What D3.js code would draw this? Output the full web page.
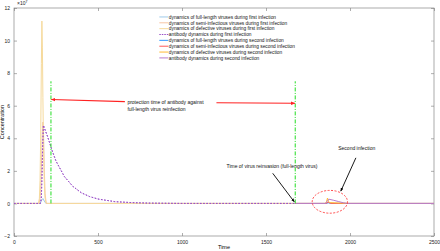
<!DOCTYPE html>
<html>
<head>
<meta charset="utf-8">
<script src="https://cdn.jsdelivr.net/npm/d3@7"></script>
<style>
  body { margin: 0; background: #fff; }
  text { font-family: 'Liberation Sans', Arial, sans-serif; }
</style>
</head>
<body>
<div id="chart"></div>
<script>
// data (values in units of 1e7)
const xTicks = [0, 500, 1000, 1500, 2000, 2500]
const yTicks = [-2, 0, 2, 4, 6, 8, 10, 12]

const fullFirst = [[0, 0], [155, 0], [165, 0.2], [172, 0.3], [180, 0.15], [190, 0], [1674, 0]]
const semiFirst = [[0, 0], [150, 0], [158, 0.6], [163, 2.2], [168, 4.2], [172, 5.0], [176, 4.2], [180, 2.2], [185, 0.6], [192, 0], [1674, 0]]
const defFirst = [[0, 0], [145, 0], [151, 0.3], [155, 1.4], [159, 4.2], [163, 8.6], [166, 11.2], [169, 9.6], [172, 6.5], [176, 3.4], [180, 1.4], [184, 0.4], [190, 0.05], [200, 0], [1674, 0]]
const abFirst = [[0, 0], [158, 0], [163, 0.4], [167, 1.8], [171, 3.6], [175, 4.8], [182, 4.6], [200, 4.1], [225, 3.3], [250, 2.6], [300, 1.65], [350, 1.05], [400, 0.66], [450, 0.42], [500, 0.27], [600, 0.11], [700, 0.05], [800, 0.02], [1000, 0], [1674, 0]]

const fullSecond = [[1674, 0], [1860, 0], [1870, 0.04], [1885, 0], [2500, 0]]
const semiSecond = [[1674, 0], [1858, 0], [1870, 0.08], [1885, 0], [2500, 0]]
const defSecond = [[1674, 0], [1852, 0], [1860, 0.1], [1866, 0.33], [1872, 0.12], [1880, 0.05], [1950, 0.02], [2000, 0], [2500, 0]]
const abSecond = [[1674, 0], [1856, 0], [1862, 0.1], [1874, 0.26], [1900, 0.2], [1930, 0.12], [1960, 0.04], [1985, 0], [2500, 0]]

const series = [
  { name: 'dynamics of full-length viruses during first infection', color: '#9ecae9', dash: null, values: fullFirst },
  { name: 'dynamics of semi-infectious viruses during first infection', color: '#f7c6a6', dash: null, values: semiFirst },
  { name: 'dynamics of defective viruses during first infection', color: '#f6da9c', dash: null, values: defFirst },
  { name: 'antibody dynamics during first infection', color: '#9a4fc7', dash: '1.6,1.6', values: abFirst },
  { name: 'dynamics of full-length viruses during second infection', color: '#3399ff', dash: null, values: fullSecond },
  { name: 'dynamics of semi-infectious viruses during second infection', color: '#ff5a5a', dash: null, values: semiSecond },
  { name: 'dynamics of defective viruses during second infection', color: '#ffbb33', dash: null, values: defSecond },
  { name: 'antibody dynamics during second infection', color: '#b77ccc', dash: null, values: abSecond }
]

const greenLines = [220, 1674]

const margin = { top: 8, left: 14, right: 6, bottom: 15 }
const width = 440 - margin.left - margin.right
const height = 251 - margin.top - margin.bottom

const svg = d3
  .select('#chart')
  .append('svg')
  .attr('width', 440)
  .attr('height', 251)
  .append('g')
  .attr('transform', 'translate(' + margin.left + ',' + margin.top + ')')

const x = d3.scaleLinear().domain([0, 2500]).range([0, width])
const y = d3.scaleLinear().domain([-2, 12]).range([height, 0])

// axes box with inner ticks
const tickLen = 3
svg.append('g')
  .attr('transform', `translate(0,${height})`)
  .call(d3.axisBottom(x).tickValues(xTicks).tickFormat(d3.format('d')).tickSizeInner(-tickLen).tickSizeOuter(0).tickPadding(4))
svg.append('g')
  .call(d3.axisTop(x).tickValues(xTicks).tickSizeInner(-tickLen).tickSizeOuter(0).tickFormat(''))
svg.append('g')
  .call(d3.axisLeft(y).tickValues(yTicks).tickFormat(d3.format('d')).tickSizeInner(-tickLen).tickSizeOuter(0).tickPadding(4))
svg.append('g')
  .attr('transform', `translate(${width},0)`)
  .call(d3.axisRight(y).tickValues(yTicks).tickSizeInner(-tickLen).tickSizeOuter(0).tickFormat(''))

svg.selectAll('.domain').remove()
svg.selectAll('.tick line').attr('stroke', '#777').attr('stroke-width', 0.6)
svg.selectAll('.tick text').attr('font-size', 5).attr('fill', '#222')

svg.append('rect')
  .attr('width', width)
  .attr('height', height)
  .attr('fill', 'none')
  .attr('stroke', '#888')
  .attr('stroke-width', 0.7)

svg.append('text')
  .attr('x', 3)
  .attr('y', -3)
  .attr('font-size', 5)
  .attr('fill', '#222')
  .text('\u00d710')
  .append('tspan')
  .attr('dy', -2)
  .attr('font-size', 3.5)
  .text('7')

svg.append('text')
  .attr('x', width / 2)
  .attr('y', height + 12.5)
  .attr('text-anchor', 'middle')
  .attr('font-size', 5.5)
  .text('Time')

svg.append('text')
  .attr('transform', `translate(${-10},${height / 2}) rotate(-90)`)
  .attr('text-anchor', 'middle')
  .attr('font-size', 5.5)
  .text('Concentration')

// curves
const line = d3.line()
  .x(d => x(d[0]))
  .y(d => y(d[1]))

svg.selectAll('.curve')
  .data(series)
  .enter()
  .append('path')
  .attr('class', 'curve')
  .attr('d', d => line(d.values))
  .attr('fill', 'none')
  .attr('stroke', d => d.color)
  .attr('stroke-width', d => d.dash ? 0.9 : 1)
  .attr('stroke-dasharray', d => d.dash)

// redraw first-infection antibody on top so dashes show
svg.append('path')
  .attr('d', line(abFirst))
  .attr('fill', 'none')
  .attr('stroke', '#9a4fc7')
  .attr('stroke-width', 0.9)
  .attr('stroke-dasharray', '1.6,1.6')

// green dash-dot markers
svg.selectAll('.green')
  .data(greenLines)
  .enter()
  .append('line')
  .attr('x1', d => x(d))
  .attr('x2', d => x(d))
  .attr('y1', y(0))
  .attr('y2', y(7.5))
  .attr('stroke', '#22dd22')
  .attr('stroke-width', 1)
  .attr('stroke-dasharray', '4,1.5,1,1.5')

// annotations
const defs = svg.append('defs')
function marker(id, color) {
  defs.append('marker')
    .attr('id', id)
    .attr('viewBox', '0 0 10 10')
    .attr('refX', 9)
    .attr('refY', 5)
    .attr('markerWidth', 4)
    .attr('markerHeight', 4)
    .attr('orient', 'auto')
    .append('path')
    .attr('d', 'M0,1 L10,5 L0,9 z')
    .attr('fill', color)
}
marker('arrRed', '#ff2222')
marker('arrBlack', '#000')

const annot = svg.append('g').attr('font-size', 5).attr('fill', '#111')

annot.append('line')
  .attr('x1', x(660)).attr('y1', y(6.25))
  .attr('x2', x(222)).attr('y2', y(6.38))
  .attr('stroke', '#ff2222').attr('stroke-width', 1.1)
  .attr('marker-end', 'url(#arrRed)')
annot.append('line')
  .attr('x1', x(1205)).attr('y1', y(6.18))
  .attr('x2', x(1672)).attr('y2', y(6.15))
  .attr('stroke', '#ff2222').attr('stroke-width', 1.1)
  .attr('marker-end', 'url(#arrRed)')
annot.append('text')
  .attr('x', x(675)).attr('y', y(6.1))
  .text('protection time of antibody against')
annot.append('text')
  .attr('x', x(675)).attr('y', y(5.65))
  .text('full-length virus reinfection')

annot.append('text')
  .attr('x', x(1265)).attr('y', y(2.2))
  .text('Time of virus reinvasion  (full-length virus)')
annot.append('line')
  .attr('x1', x(1540)).attr('y1', y(1.85))
  .attr('x2', x(1668)).attr('y2', y(0.1))
  .attr('stroke', '#000').attr('stroke-width', 0.9)
  .attr('marker-end', 'url(#arrBlack)')

annot.append('text')
  .attr('x', x(1930)).attr('y', y(3.3))
  .text('Second infection')
annot.append('line')
  .attr('x1', x(2035)).attr('y1', y(2.8))
  .attr('x2', x(1945)).attr('y2', y(0.75))
  .attr('stroke', '#000').attr('stroke-width', 0.9)
  .attr('marker-end', 'url(#arrBlack)')

annot.append('ellipse')
  .attr('cx', x(1880)).attr('cy', y(0.1))
  .attr('rx', x(1985) - x(1880)).attr('ry', y(0) - y(0.7))
  .attr('fill', 'none')
  .attr('stroke', '#ff2222')
  .attr('stroke-width', 0.8)
  .attr('stroke-dasharray', '2,1.5')

// legend
const legend = svg.append('g')
  .attr('transform', `translate(${x(865)},${y(11.45)})`)

const item = legend.selectAll('.item')
  .data(series)
  .enter()
  .append('g')
  .attr('transform', (d, i) => `translate(0,${i * 5.85})`)

item.append('line')
  .attr('x1', 0).attr('x2', 9)
  .attr('stroke', d => d.color)
  .attr('stroke-width', 1)
  .attr('stroke-dasharray', d => d.dash ? '1.5,1' : null)
item.append('text')
  .attr('x', 9.5)
  .attr('y', 1.7)
  .attr('font-size', 4.8)
  .attr('fill', '#111')
  .text(d => d.name)
</script>
</body>
</html>
